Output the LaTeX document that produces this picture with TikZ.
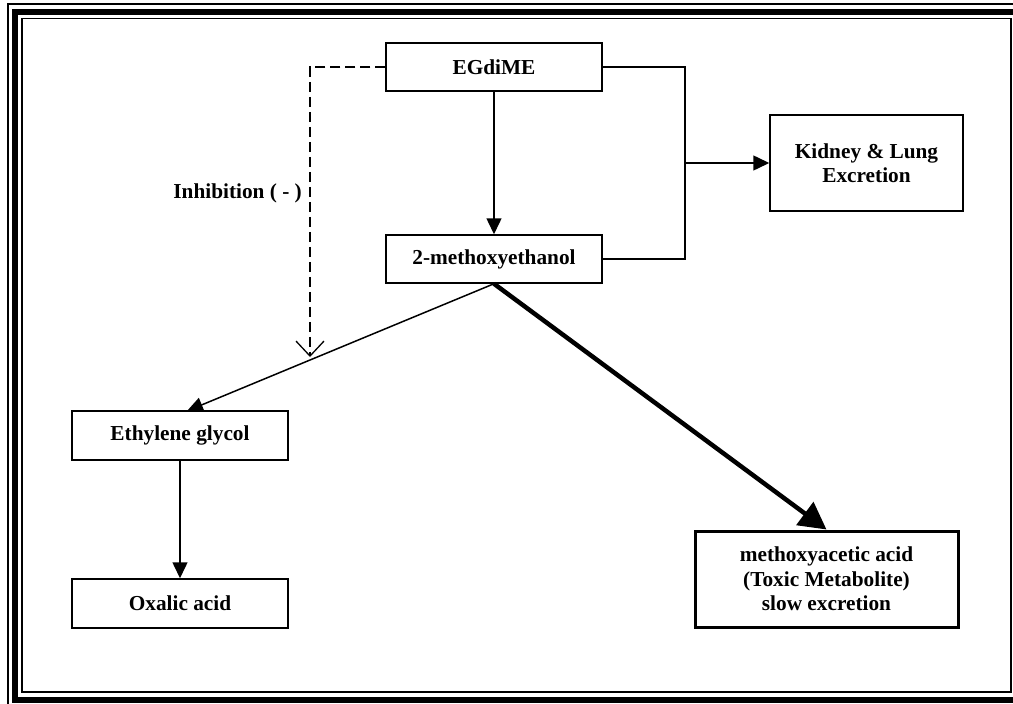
\documentclass[tikz,border=0pt]{standalone}
\usepackage{fontspec}
\setmainfont{Liberation Serif}
\usetikzlibrary{arrows.meta}
\begin{document}
\begin{tikzpicture}[x=1pt,y=-1pt,
  box/.style={draw,line width=1.5pt,inner sep=0pt,align=center,
    font=\fontsize{21.3}{24.5}\selectfont\bfseries},
  conn/.style={line width=1.5pt},
  arr/.style={line width=1.5pt,-{Triangle[length=16pt,width=15pt]}},
  bigarr/.style={line width=4.5pt,-{Triangle[length=27pt,width=28pt]}},
  inhib/.style={line width=1.3pt,dash pattern=on 10pt off 5pt,-{Straight Barb[length=15pt,width=28pt,line width=1.3pt]}}
]
\useasboundingbox (0,0) rectangle (1013,704);
% border
\draw[line width=2pt] (8,4) rectangle (1040,730);
\draw[line width=6pt] (15,11.5) rectangle (1017,699.5);
\draw[line width=1.6pt] (22,18.5) rectangle (1011,692);
% nodes
\node[box,minimum width=216pt,minimum height=48pt] (eg) at (494,67) {EGdiME};
\node[box,minimum width=216pt,minimum height=48pt] (me) at (494,259) {2-methoxyethanol};
\node[box,minimum width=193pt,minimum height=96pt] (kid) at (866.5,163) {Kidney \& Lung\\Excretion};
\node[box,line width=3pt,minimum width=263pt,minimum height=96pt] (maa) at (826.5,579) {methoxyacetic acid\\(Toxic Metabolite)\\slow excretion};
\node[box,minimum width=216pt,minimum height=49pt] (ethg) at (180,435.5) {Ethylene glycol};
\node[box,minimum width=216pt,minimum height=49pt] (ox) at (180,603.5) {Oxalic acid};
\node[anchor=east,inner sep=0pt,font=\fontsize{21.3}{24.5}\selectfont\bfseries] (inh) at (302,193) {Inhibition ( - )};
% coordinates
\coordinate (j1) at (685,67);
\coordinate (j2) at (685,259);
\coordinate (jm) at (685,163);
\coordinate (et) at (187,411);
\coordinate (d2) at (310,357);
% connectors
\draw[arr] (eg.south) -- (me.north);
\draw[conn] (eg.east) -- (j1) -- (j2) -- (me.east);
\draw[arr] (jm) -- (kid.west);
\draw[arr] (me.south) -- (et);
\draw[bigarr] (me.south) -- (maa.north);
\draw[arr] (ethg.south) -- (ox.north);
\draw[inhib] (eg.west) -| (d2);
\end{tikzpicture}
\end{document}
